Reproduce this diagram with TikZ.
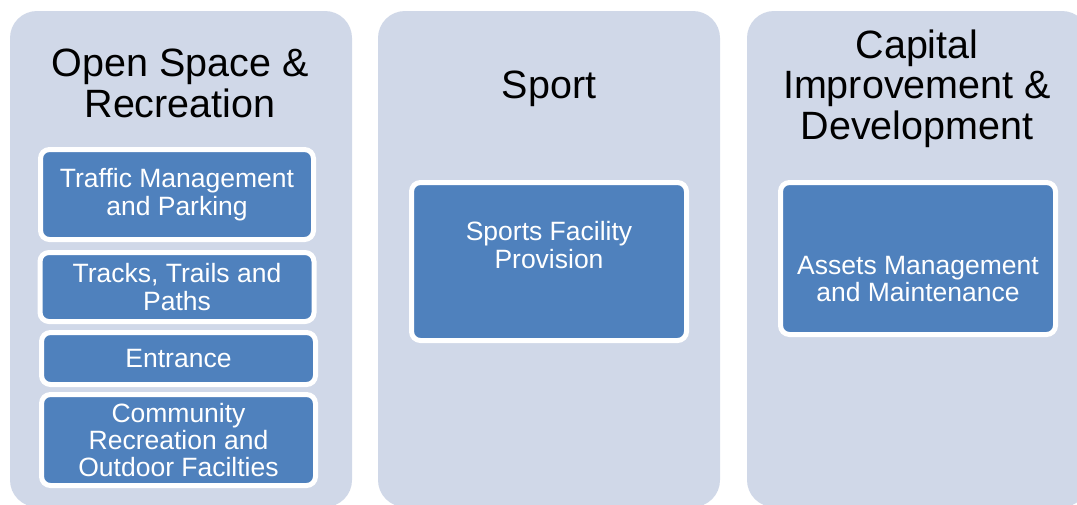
\documentclass[tikz,border=0pt]{standalone}
\usepackage{fontspec}
\setmainfont{Liberation Sans}
\definecolor{panelcol}{RGB}{208,216,232}
\definecolor{boxblue}{RGB}{79,129,189}
\begin{document}
\begin{tikzpicture}[x=1pt,y=-1pt,
  panel/.style={fill=panelcol, draw=none, rounded corners=27pt, inner sep=0pt, outer sep=0pt},
  title/.style={font=\fontsize{39.5}{40.7}\selectfont, text=black, align=center, inner sep=0pt},
  bluebox/.style={fill=boxblue, draw=white, line width=5pt, rounded corners=9pt, inner sep=0pt,
    font=\fontsize{26.5}{27.4}\selectfont, text=white, align=center},
  boxtext/.style={font=\fontsize{26.5}{27.4}\selectfont, text=white, align=center, inner sep=0pt}]
\useasboundingbox (0,0) rectangle (1077,504);
\clip (0,0) rectangle (1077,504);
\fill[white] (0,0) rectangle (1077,504);
% panels
\node[panel, minimum width=342pt, minimum height=496pt] (p1) at (181,259) {};
\node[panel, minimum width=342pt, minimum height=496pt] (p2) at (549,259) {};
\node[panel, minimum width=342pt, minimum height=496pt] (p3) at (918,259) {};
% titles
\node[title] (t1) at (180,83.6) {Open Space \&\\Recreation};
\node[title, anchor=base] (t2) at (549,98) {Sport};
\node[title] (t3) at (917,88.7) {Capital\\Improvement \&\\Development};
% panel 1 boxes
\node[bluebox, minimum width=273pt, minimum height=90pt] (b1) at (177,194.5) {Traffic Management\\and Parking};
\node[bluebox, minimum width=274pt, minimum height=69pt] (b2) at (177,287) {Tracks, Trails and\\Paths};
\node[bluebox, minimum width=274pt, minimum height=52pt] (b3) at (178.5,358.5) {Entrance};
\node[bluebox, minimum width=274pt, minimum height=91pt] (b4) at (178.5,440) {Community\\Recreation and\\Outdoor Facilties};
% panel 2 box
\node[bluebox, minimum width=275pt, minimum height=158pt] (b5) at (549,261.5) {};
\node[boxtext] (b5t) at (549,245) {Sports Facility\\Provision};
% panel 3 box
\node[bluebox, minimum width=275pt, minimum height=152pt] (b6) at (918,258.5) {};
\node[boxtext] (b6t) at (918,279) {Assets Management\\and Maintenance};
\end{tikzpicture}
\end{document}
